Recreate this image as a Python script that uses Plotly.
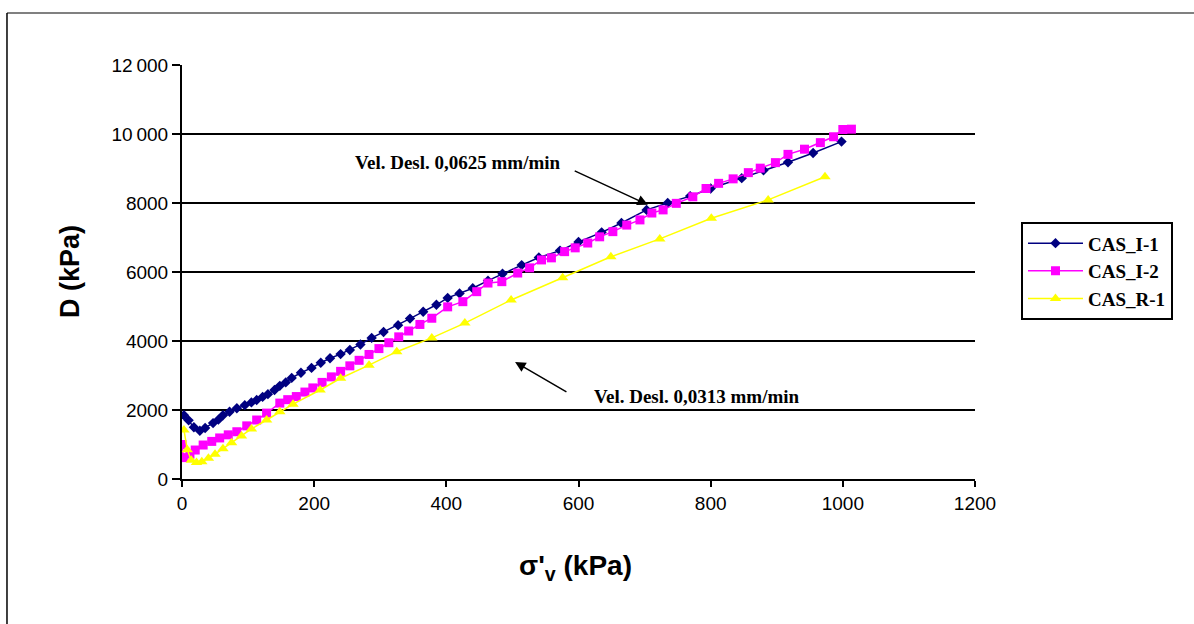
import plotly.graph_objects as go

# Effective vertical stress (kPa) vs constrained modulus D (kPa) for three tests
i1_sigma = [3, 10, 18, 27, 35, 47, 55, 62, 72, 83, 95, 105, 113, 122, 130, 140, 148, 157, 166, 180,
            196, 210, 224, 240, 254, 270, 287, 305, 327, 345, 365, 385, 402, 420, 440, 463, 485, 514, 540, 572,
            600, 635, 665, 703, 735, 769, 800, 847, 880, 917, 955, 998]
i1_d = [1850, 1700, 1500, 1400, 1480, 1620, 1720, 1850, 1950, 2050, 2140, 2220, 2290, 2380, 2460, 2580, 2700, 2800, 2930, 3080,
        3220, 3370, 3500, 3620, 3740, 3900, 4090, 4260, 4460, 4650, 4850, 5050, 5250, 5380, 5530, 5750, 5950, 6200, 6420, 6620,
        6870, 7150, 7420, 7800, 8000, 8200, 8420, 8720, 8950, 9180, 9450, 9780]

i2_sigma = [0, 2, 12, 20, 32, 45, 57, 70, 83, 98, 113, 128, 148, 160, 173, 186, 198, 212, 226, 240,
            254, 268, 283, 298, 313, 328, 343, 360, 378, 402, 425, 446, 463, 484, 508, 526, 544, 559, 579, 595,
            614, 632, 652, 673, 693, 711, 728, 748, 773, 793, 812, 834, 857, 875, 898, 917, 942, 966, 986, 1000, 1013]
i2_d = [1000, 620, 720, 840, 985, 1090, 1190, 1280, 1370, 1540, 1710, 1910, 2200, 2300, 2390, 2520, 2640, 2800, 2960, 3120,
        3280, 3440, 3610, 3780, 3950, 4120, 4290, 4480, 4660, 4990, 5140, 5430, 5680, 5720, 5970, 6120, 6350, 6410, 6590, 6700,
        6840, 7020, 7170, 7360, 7510, 7710, 7800, 7990, 8180, 8420, 8570, 8700, 8880, 9010, 9170, 9410, 9560, 9750, 9920, 10130, 10140]

r1_sigma = [3, 8, 14, 22, 30, 40, 50, 62, 75, 90, 105, 128, 148, 168, 209, 240, 283, 325, 378, 428, 498, 576, 649, 723, 801, 887, 973]
r1_d = [1420, 850, 540, 480, 500, 600, 720, 880, 1050, 1250, 1450, 1710, 1950, 2170, 2580, 2920, 3300, 3690, 4090, 4520, 5190,
        5830, 6440, 6960, 7560, 8090, 8760]

y_ticks = [0, 2000, 4000, 6000, 8000, 10000, 12000]
y_tick_text = ["0", "2000", "4000", "6000", "8000", "10\u2009000", "12\u2009000"]
x_ticks = [0, 200, 400, 600, 800, 1000, 1200]

serif_bold = "Liberation Serif"
sans = "Liberation Sans, Arial, sans-serif"

fig = go.Figure()
fig.add_trace(go.Scatter(x=i1_sigma, y=i1_d, mode="lines+markers", name="<b>CAS_I-1</b>",
                         line=dict(color="#000080", width=1.5),
                         marker=dict(symbol="diamond", size=8, color="#000080")))
fig.add_trace(go.Scatter(x=i2_sigma, y=i2_d, mode="lines+markers", name="<b>CAS_I-2</b>",
                         line=dict(color="#FF00FF", width=1.5),
                         marker=dict(symbol="square", size=9, color="#FF00FF")))
fig.add_trace(go.Scatter(x=r1_sigma, y=r1_d, mode="lines+markers", name="<b>CAS_R-1</b>",
                         line=dict(color="#FFFF00", width=1.5),
                         marker=dict(symbol="triangle-up", size=10, color="#FFFF00")))

fig.update_layout(
    width=1194, height=624,
    margin=dict(l=182, r=219, t=65, b=145),
    paper_bgcolor="white", plot_bgcolor="white",
    font=dict(family=sans, color="black", size=19),
    showlegend=True,
    legend=dict(x=1.058, y=0.62, xanchor="left", yanchor="top",
                bordercolor="black", borderwidth=2, bgcolor="white",
                font=dict(family=serif_bold, size=19, color="black"),
                tracegroupgap=6, itemwidth=55),
    xaxis=dict(range=[0, 1200], tickvals=x_ticks, showgrid=False, zeroline=False,
               showline=True, linecolor="black", linewidth=2,
               ticks="outside", ticklen=6, tickwidth=2, tickcolor="black",
               tickfont=dict(size=19, family=sans)),
    yaxis=dict(range=[0, 12000], tickvals=y_ticks, ticktext=y_tick_text,
               showgrid=True, gridcolor="black", gridwidth=2, zeroline=False,
               showline=True, linecolor="black", linewidth=2,
               ticks="outside", ticklen=8, tickwidth=2, tickcolor="black",
               tickfont=dict(size=19, family=sans)),
)

# axis titles
fig.add_annotation(text="<b>D (kPa)</b>", xref="paper", yref="paper", x=-0.1412, y=0.5,
                   xanchor="center", yanchor="middle",
                   textangle=-90, showarrow=False, font=dict(size=27, family=sans))
fig.add_annotation(text="<b>σ'<sub>v</sub> (kPa)</b>", xref="paper", yref="paper", x=0.4956, y=-0.2126,
                   xanchor="center", yanchor="middle",
                   showarrow=False, font=dict(size=28, family=sans))

# loading-rate callouts
fig.add_annotation(text="<b>Vel. Desl. 0,0625 mm/min</b>", x=417, y=9160, xref="x", yref="y",
                   xanchor="center", yanchor="middle",
                   showarrow=False, font=dict(size=19, family=serif_bold))
fig.add_annotation(text="", x=705, y=7950, ax=592, ay=8950, xref="x", yref="y", axref="x", ayref="y",
                   showarrow=True, arrowhead=2, arrowsize=1.4, arrowwidth=1.5, arrowcolor="black")
fig.add_annotation(text="<b>Vel. Desl. 0,0313 mm/min</b>", x=779, y=2377, xref="x", yref="y",
                   xanchor="center", yanchor="middle",
                   showarrow=False, font=dict(size=19, family=serif_bold))
fig.add_annotation(text="", x=504, y=3390, ax=584, ay=2500, xref="x", yref="y", axref="x", ayref="y",
                   showarrow=True, arrowhead=2, arrowsize=1.4, arrowwidth=1.5, arrowcolor="black")

# outer chart frame (top and left edges)
fig.add_shape(type="line", xref="paper", yref="paper", x0=-0.2207, x1=1.3, y0=1.1256, y1=1.1256,
              line=dict(color="#808080", width=2))
fig.add_shape(type="line", xref="paper", yref="paper", x0=-0.2207, x1=-0.2207, y0=1.1256, y1=-0.4,
              line=dict(color="black", width=1.5))

fig.write_html("out.html")
